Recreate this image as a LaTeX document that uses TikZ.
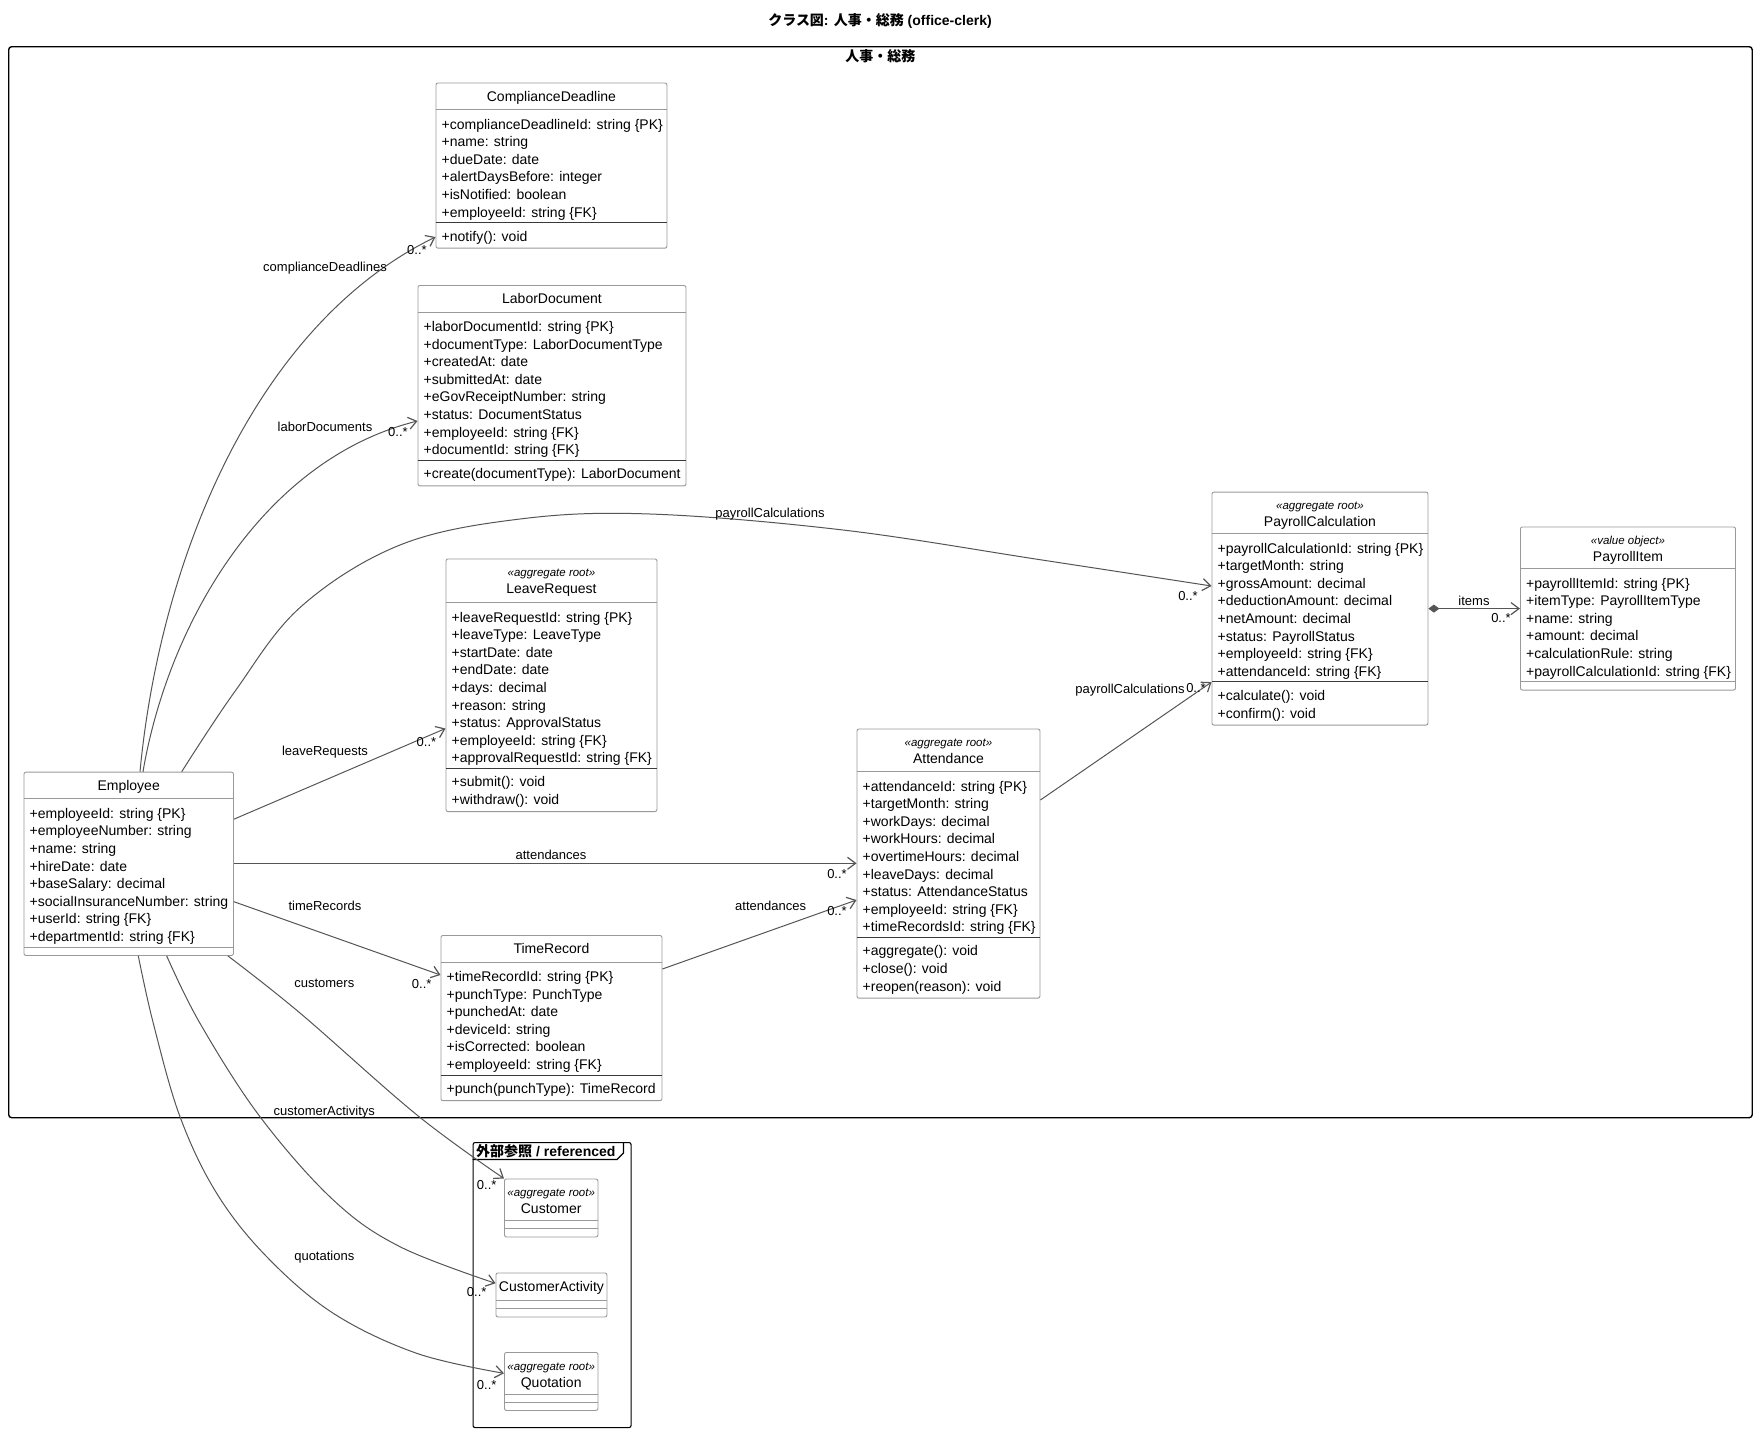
\documentclass[tikz,border=0pt]{standalone}
\usepackage{fontspec}
\setmainfont{Liberation Sans}
\newfontfamily\cjk{Noto Sans CJK JP}
\usetikzlibrary{arrows.meta,calc}

\definecolor{boxgray}{HTML}{999999}
\definecolor{edgegray}{HTML}{555555}
\definecolor{divdark}{HTML}{3A3A3A}

\tikzset{
  clsnode/.style={draw=boxgray, line width=0.9pt, rounded corners=2pt, fill=white, inner sep=0pt},
  hdiv/.style={draw=boxgray, line width=0.9pt},
  mdiv/.style={draw=divdark, line width=1.1pt},
  ctext/.style={font=\fontsize{14}{16}\selectfont, inner sep=0pt},
  stereo/.style={font=\fontsize{11.5}{13}\selectfont\itshape, inner sep=0pt},
  atext/.style={font=\fontsize{14}{16}\selectfont, inner sep=0pt, anchor=base west},
  elabel/.style={font=\fontsize{13}{15}\selectfont, inner sep=0pt, anchor=base},
  mult/.style={font=\fontsize{13}{15}\selectfont, inner sep=0pt, anchor=base},
  edge/.style={draw=edgegray, line width=1pt, -{Straight Barb[length=8pt,width=12pt,line width=1.2pt]}},
  frametitle/.style={font=\bfseries\fontsize{14}{16}\selectfont, inner sep=0pt},
}

\newcommand\umlbox[7]{%
  \pgfmathsetmacro\clsA{(#6==0)*8+(#6>0)*(#6*17.6+7.5)}%
  \pgfmathsetmacro\clsM{(#7==0)*8+(#7>0)*(#7*17.6+7.5)}%
  \pgfmathsetmacro\clsTot{#5+\clsA+\clsM}%
  \pgfmathsetmacro\clsB{#5+\clsA}%
  \def\clsHH{#5}%
  \node[clsnode, minimum width=#4pt, minimum height=\clsTot pt, anchor=north west] (#1) at (#2,#3) {};%
  \draw[hdiv] ($(#1.north west)+(0,#5)$) -- ($(#1.north east)+(0,#5)$);%
  \ifnum#7>0
    \draw[mdiv] ($(#1.north west)+(0,\clsB)$) -- ($(#1.north east)+(0,\clsB)$);%
  \else
    \draw[hdiv] ($(#1.north west)+(0,\clsB)$) -- ($(#1.north east)+(0,\clsB)$);%
  \fi
}
\newcommand\umlhead[3]{%
  \def\tmpst{#2}%
  \ifx\tmpst\empty
    \node[ctext, anchor=base] (#1-name) at ($(#1.north)+(0,{\clsHH/2+5})$) {#3};%
  \else
    \node[stereo, anchor=base] (#1-st) at ($(#1.north)+(0,18.3)$) {«#2»};%
    \node[ctext, anchor=base] (#1-name) at ($(#1.north)+(0,35)$) {#3};%
  \fi}
\newcommand\umlattrs[2]{%
  \foreach \itm [count=\k] in {#2} {\node[atext] (#1-a\k) at ($(#1.north west)+(6,{\clsHH+19.5+(\k-1)*17.6})$) {\itm};}}
\newcommand\umlmeths[2]{%
  \foreach \itm [count=\k] in {#2} {\node[atext] (#1-m\k) at ($(#1.north west)+(6,{\clsB+18.5+(\k-1)*17.6})$) {\itm};}}

\begin{document}
\begin{tikzpicture}[x=1pt, y=-1pt]
\fill[white] (0,0) rectangle (1764,1440);
\useasboundingbox (0,0) rectangle (1764,1440);

% title
\node[frametitle, anchor=base] (title) at (880,25) {{\cjk クラス図}: {\cjk 人事・総務} (office-clerk)};

% package frames
\node[draw=black, line width=1.4pt, rounded corners=3pt, minimum width=1743.5pt, minimum height=1071pt, anchor=north west, inner sep=0pt] (pkg) at (8,46) {};
\node[frametitle, anchor=base] (pkglabel) at ($(pkg.north)+(0,15)$) {\cjk 人事・総務};

\node[draw=black, line width=1.1pt, rounded corners=2pt, minimum width=158pt, minimum height=285pt, anchor=north west, inner sep=0pt] (ext) at (472.5,1142) {};
\draw[black, line width=1.1pt] ($(ext.north west)+(0,17.5)$) -- ($(ext.north west)+(144.5,17.5)$) -- ($(ext.north west)+(151,11)$) -- ($(ext.north west)+(151,0)$);
\node[frametitle, anchor=base west] (extlabel) at ($(ext.north west)+(3.5,14)$) {{\cjk 外部参照} / referenced};

% classes
\umlbox{CD}{435.5}{82.5}{231}{27}{6}{1}
\umlhead{CD}{}{ComplianceDeadline}
\umlattrs{CD}{+complianceDeadlineId: string \{PK\}, +name: string, +dueDate: date, +alertDaysBefore: integer, +isNotified: boolean, +employeeId: string \{FK\}}
\umlmeths{CD}{+notify(): void}

\umlbox{LD}{417.5}{285}{268}{27}{8}{1}
\umlhead{LD}{}{LaborDocument}
\umlattrs{LD}{+laborDocumentId: string \{PK\}, +documentType: LaborDocumentType, +createdAt: date, +submittedAt: date, +eGovReceiptNumber: string, +status: DocumentStatus, +employeeId: string \{FK\}, +documentId: string \{FK\}}
\umlmeths{LD}{+create(documentType): LaborDocument}

\umlbox{LR}{445.5}{558.5}{211}{44}{9}{2}
\umlhead{LR}{aggregate root}{LeaveRequest}
\umlattrs{LR}{+leaveRequestId: string \{PK\}, +leaveType: LeaveType, +startDate: date, +endDate: date, +days: decimal, +reason: string, +status: ApprovalStatus, +employeeId: string \{FK\}, +approvalRequestId: string \{FK\}}
\umlmeths{LR}{+submit(): void, +withdraw(): void}

\umlbox{EMP}{23.5}{771.7}{209.5}{27}{8}{0}
\umlhead{EMP}{}{Employee}
\umlattrs{EMP}{+employeeId: string \{PK\}, +employeeNumber: string, +name: string, +hireDate: date, +baseSalary: decimal, +socialInsuranceNumber: string, +userId: string \{FK\}, +departmentId: string \{FK\}}

\umlbox{ATT}{856.5}{728.5}{183}{43}{9}{3}
\umlhead{ATT}{aggregate root}{Attendance}
\umlattrs{ATT}{+attendanceId: string \{PK\}, +targetMonth: string, +workDays: decimal, +workHours: decimal, +overtimeHours: decimal, +leaveDays: decimal, +status: AttendanceStatus, +employeeId: string \{FK\}, +timeRecordsId: string \{FK\}}
\umlmeths{ATT}{+aggregate(): void, +close(): void, +reopen(reason): void}

\umlbox{TR}{440.5}{935}{221}{27}{6}{1}
\umlhead{TR}{}{TimeRecord}
\umlattrs{TR}{+timeRecordId: string \{PK\}, +punchType: PunchType, +punchedAt: date, +deviceId: string, +isCorrected: boolean, +employeeId: string \{FK\}}
\umlmeths{TR}{+punch(punchType): TimeRecord}

\umlbox{PC}{1211.5}{491.6}{216}{42}{8}{2}
\umlhead{PC}{aggregate root}{PayrollCalculation}
\umlattrs{PC}{+payrollCalculationId: string \{PK\}, +targetMonth: string, +grossAmount: decimal, +deductionAmount: decimal, +netAmount: decimal, +status: PayrollStatus, +employeeId: string \{FK\}, +attendanceId: string \{FK\}}
\umlmeths{PC}{+calculate(): void, +confirm(): void}

\umlbox{PI}{1520}{526.5}{215}{42}{6}{0}
\umlhead{PI}{value object}{PayrollItem}
\umlattrs{PI}{+payrollItemId: string \{PK\}, +itemType: PayrollItemType, +name: string, +amount: decimal, +calculationRule: string, +payrollCalculationId: string \{FK\}}

\umlbox{CU}{504}{1178.5}{93.5}{42}{0}{0}
\umlhead{CU}{aggregate root}{Customer}

\umlbox{CA}{495.5}{1272.5}{111}{28}{0}{0}
\umlhead{CA}{}{CustomerActivity}

\umlbox{QU}{504}{1352}{93.5}{42}{0}{0}
\umlhead{QU}{aggregate root}{Quotation}

% connector end points
\coordinate (e1s) at ($(EMP.north west)+(116.5,0)$);
\coordinate (e1e) at ($(CD.north west)+(0,154.5)$);
\coordinate (e2s) at ($(EMP.north west)+(119.5,0)$);
\coordinate (e2e) at ($(LD.north west)+(0,136)$);
\coordinate (e3s) at ($(EMP.north west)+(158.2,0)$);
\coordinate (e3e) at ($(PC.north west)+(0,94.4)$);
\coordinate (e4s) at ($(EMP.north east)+(0,47.5)$);
\coordinate (e4e) at ($(LR.north west)+(0,170)$);
\coordinate (e5s) at ($(EMP.north east)+(0,91.6)$);
\coordinate (e5e) at ($(ATT.north west)+(0,134.8)$);
\coordinate (e6s) at ($(EMP.north east)+(0,130)$);
\coordinate (e6e) at ($(TR.north west)+(0,40)$);
\coordinate (e7s) at ($(TR.north east)+(0,34)$);
\coordinate (e7e) at ($(ATT.north west)+(0,171.5)$);
\coordinate (e8s) at ($(ATT.north east)+(0,71.5)$);
\coordinate (e8e) at ($(PC.north west)+(0,190.5)$);
\coordinate (e9s) at ($(PC.north east)+(0,117)$);
\coordinate (e9e) at ($(PI.north west)+(0,82.1)$);
\coordinate (e10s) at ($(EMP.south east)+(-6,0)$);
\coordinate (e10e) at (CU.north west);
\coordinate (e11s) at ($(EMP.south west)+(143.2,0)$);
\coordinate (e11e) at ($(CA.north west)+(0,10.8)$);
\coordinate (e12s) at ($(EMP.south west)+(114.8,0)$);
\coordinate (e12e) at ($(QU.north west)+(0,21.3)$);

% connectors
\draw[edge] (e1s) .. controls (160,560) and (255,325) .. (e1e);
\draw[edge] (e2s) .. controls (168,625) and (262,460) .. (e2e);
\draw[edge] plot[smooth, tension=0.6] coordinates {(e3s) (234.5,692) (300.6,607) (400,545) (520,519) (650,514) (843,530) (1042,560) (e3e)};
\draw[edge] (e4s) -- (e4e);
\draw[edge] (e5s) -- (e5e);
\draw[edge] (e6s) -- (e6e);
\draw[edge] (e7s) -- (e7e);
\draw[edge] (e8s) -- (e8e);
\draw[draw=edgegray, line width=1pt, {Diamond[length=11pt,width=8pt,fill=edgegray]}-{Straight Barb[length=8pt,width=12pt,line width=1.2pt]}] (e9s) -- (e9e);
\draw[edge] plot[smooth, tension=0.6] coordinates {(e10s) (300,1013) (417,1115) (e10e)};
\draw[edge] plot[smooth, tension=0.6] coordinates {(e11s) (200,1023.3) (260,1116.7) (333.3,1200) (400,1246.7) (e11e)};
\draw[edge] plot[smooth, tension=0.6] coordinates {(e12s) (153.3,1023.3) (180,1116.7) (216.7,1193.3) (266.7,1256.7) (333.3,1313.3) (416.7,1353.3) (e12e)};

% connector labels
\node[elabel] (l1) at (325,271) {complianceDeadlines};
\node[elabel] (l2) at (325,431) {laborDocuments};
\node[elabel] (l3) at (770,517.5) {payrollCalculations};
\node[elabel] (l4) at (325,755) {leaveRequests};
\node[elabel] (l5) at (551,859.5) {attendances};
\node[elabel] (l6) at (325,910) {timeRecords};
\node[elabel] (l7) at (770.6,910) {attendances};
\node[elabel] (l8) at (1130,693.5) {payrollCalculations};
\node[elabel] (l9) at (1474,605) {items};
\node[elabel] (l10) at (324.3,987) {customers};
\node[elabel] (l11) at (324.3,1115) {customerActivitys};
\node[elabel] (l12) at (324.3,1260) {quotations};

% multiplicities
\node[mult] (m1) at (417,254.5) {0..*};
\node[mult] (m2) at (398,436) {0..*};
\node[mult] (m3) at (1188,600.5) {0..*};
\node[mult] (m4) at (426.5,746) {0..*};
\node[mult] (m5) at (837,878.5) {0..*};
\node[mult] (m6) at (421.7,988.5) {0..*};
\node[mult] (m7) at (837,915.5) {0..*};
\node[mult] (m8) at (1196,692.5) {0..*};
\node[mult] (m9) at (1501,622.5) {0..*};
\node[mult] (m10) at (486.7,1189.5) {0..*};
\node[mult] (m11) at (476.7,1296) {0..*};
\node[mult] (m12) at (486.7,1389) {0..*};
\end{tikzpicture}
\end{document}
